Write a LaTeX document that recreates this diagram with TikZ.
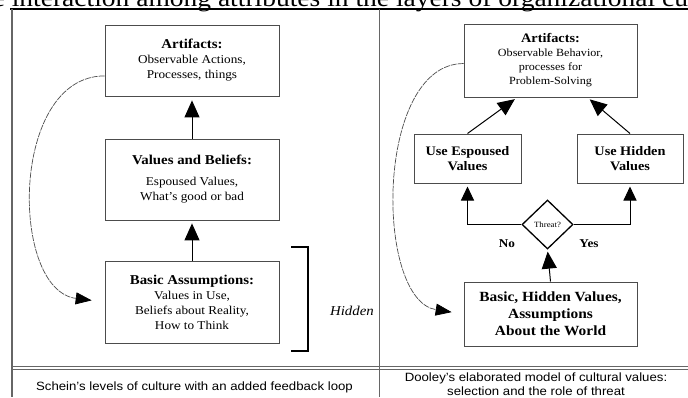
\documentclass[tikz,border=0pt]{standalone}
\usepackage{fontspec}
\setmainfont{Liberation Serif}[FakeStretch=1.1]
\setsansfont{Liberation Sans}[FakeStretch=1.1]
\usetikzlibrary{arrows.meta,shapes.geometric}

\newcommand{\ttl}{\fontsize{13.5}{15}\selectfont\bfseries}
\newcommand{\bdy}{\fontsize{12}{15}\selectfont}
\newcommand{\cpt}{\sffamily\fontsize{12}{13.5}\selectfont}

\tikzset{
  layer/.style={draw=black!70, line width=0.8pt, fill=white, align=center, inner sep=2pt},
  up/.style={draw=black, line width=1pt, -{Triangle[length=17pt,width=15pt]}},
  loopback/.style={draw=black!70, line width=0.7pt, dash pattern=on 6pt off 1pt,
    -{Triangle[length=16pt,width=12pt,color=black]}},
  rule/.style={draw=black!60, line width=0.8pt}
}

\begin{document}
\begin{tikzpicture}[x=1pt,y=-1pt]
\useasboundingbox (0,0) rectangle (688,397);
\clip (0,0) rectangle (688,397);

% heading line, cut by the page
\node[anchor=base west, inner sep=0, font=\fontsize{25}{28}\selectfont] (heading) at (-38,6.5)
  {The interaction among attributes in the layers of organizational culture};

% table
\draw[line width=2pt] (10,9) -- (688,9);
\draw[rule, line width=1.5pt] (12,9) -- (12,397);
\draw[rule] (379,9) -- (379,397);
\draw[rule] (12,366.5) -- (688,366.5);
\draw[rule] (12,369.8) -- (688,369.8);

% left: Schein
\node[layer, font=\bdy, minimum width=174, minimum height=71] (art1) at (192,60.5)
  {{\ttl Artifacts:}\\ Observable Actions,\\ Processes, things};
\node[layer, font=\bdy, minimum width=174, minimum height=81] (vb1) at (192,179.5)
  {{\ttl Values and Beliefs:}\\[6pt] Espoused Values,\\ What's good or bad};
\node[layer, font=\bdy, minimum width=174, minimum height=82] (ba1) at (192,302)
  {{\ttl Basic Assumptions:}\\ Values in Use,\\ Beliefs about Reality,\\ How to Think};

\draw[up, shorten >=4pt] (vb1.north) -- (art1.south);
\draw[up, shorten >=3pt] (ba1.north) -- (vb1.south);
\draw[loopback, shorten >=13pt] (art1.190) .. controls +(-95,0) and +(-95,-12) .. (ba1.west);

\draw[line width=1.2pt] (291,247) -| (308,351) -- (291,351);
\node[font=\fontsize{13.5}{15}\selectfont\itshape] (hidden) at (352,311) {Hidden};

% right: Dooley
\node[layer, font=\fontsize{11}{14}\selectfont, minimum width=173, minimum height=73] (art2) at (550.5,60.5)
  {{\fontsize{13}{14}\selectfont\bfseries Artifacts:}\\ Observable Behavior,\\ processes for\\ Problem-Solving};
\node[layer, line width=1pt, font=\fontsize{13}{15}\selectfont\bfseries, minimum width=107, minimum height=49] (esp) at (467.5,158.5)
  {Use Espoused\\ Values};
\node[layer, line width=1pt, font=\fontsize{13}{15}\selectfont\bfseries, minimum width=106, minimum height=49] (hid) at (630,158.5)
  {Use Hidden\\ Values};
\node[diamond, draw, line width=1.3pt, inner sep=0, minimum width=51, minimum height=49,
  font=\fontsize{8}{9}\selectfont] (thr) at (547.5,224.5) {Threat?};
\node[layer, line width=1pt, font=\fontsize{14}{17}\selectfont\bfseries, minimum width=173, minimum height=64] (bhv) at (550.5,314)
  {Basic, Hidden Values,\\ Assumptions\\ About the World};

\node[font=\fontsize{12}{14}\selectfont\bfseries] (no) at (507,244) {No};
\node[font=\fontsize{12}{14}\selectfont\bfseries] (yes) at (589,244) {Yes};

\draw[up, shorten >=3pt] (esp.north) -- (art2.228);
\draw[up, shorten >=3pt] (hid.north) -- (art2.315);
\draw[up, -{Triangle[length=14pt,width=13pt]}, shorten >=3pt] (thr.west) -| (esp.south);
\draw[up, -{Triangle[length=14pt,width=13pt]}, shorten >=3pt] (thr.east) -| (hid.south);
\draw[up, shorten >=2pt] (bhv.north) -- (thr.south);
\draw[loopback, shorten >=12pt] (art2.182) .. controls +(-89,0) and +(-89,-14) .. (bhv.west);

% captions
\node[font=\cpt, anchor=base] (cap1) at (194.5,390) {Schein's levels of culture with an added feedback loop};
\node[font=\cpt, anchor=north, align=center, inner sep=0] (cap2) at (536,373)
  {Dooley's elaborated model of cultural values:\\ selection and the role of threat};
\end{tikzpicture}
\end{document}
